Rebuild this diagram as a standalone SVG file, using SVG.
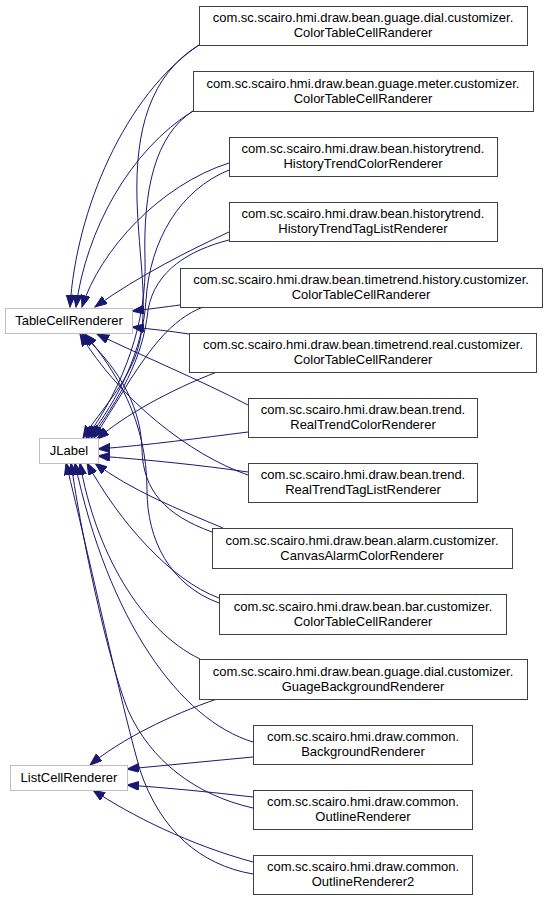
<svg xmlns="http://www.w3.org/2000/svg" width="551" height="901" viewBox="0 0 551 901">
<defs>
<marker id="arr" markerWidth="13" markerHeight="11" refX="12" refY="4.5" orient="auto" markerUnits="userSpaceOnUse">
<path d="M0,0 L12,4.5 L0,9 z" fill="#191970" stroke="#191970" stroke-width="1"/>
</marker>
<style>
.e{fill:none;stroke:#191970;stroke-width:1;marker-end:url(#arr)}
.n rect{fill:#fff;stroke:#404040;stroke-width:1}
.x rect{fill:#fff;stroke:#bfbfbf;stroke-width:1}
text{font-family:"Liberation Sans",Arial,sans-serif;font-size:13px;fill:#000;text-anchor:middle}
</style>
</defs>
<rect x="0" y="0" width="551" height="901" fill="#fff"/>
<g id="edges">
<path class="e" d="M199,45 C125,95 76,210 70,307"/>
<path class="e" d="M193,111 C130,150 86,230 76,307"/>
<path class="e" d="M229,163 C160,185 100,250 82,307"/>
<path class="e" d="M229,232 C190,250 140,275 95,307"/>
<path class="e" d="M180,305 C165,307 150,309 132,311"/>
<path class="e" d="M189,334 C170,331 150,329 132,327"/>
<path class="e" d="M248,405 C200,380 140,355 97,334"/>
<path class="e" d="M248,475 C190,455 120,400 80,334"/>
<path class="e" d="M212,532 C165,515 143,490 142,450 C141,400 112,362 82,334"/>
<path class="e" d="M219,603 C170,585 147,540 147,490 C147,420 115,370 85,334"/>
<path class="e" d="M199,45 C150,75 135,130 137,200 C139,260 148,300 140,340 C132,380 100,410 83,438"/>
<path class="e" d="M193,111 C155,135 143,190 145,260 C147,320 125,385 86,438"/>
<path class="e" d="M229,170 C180,190 150,240 146,300 C143,350 118,400 88,438"/>
<path class="e" d="M229,240 C190,250 155,270 148,310 C143,360 118,400 91,438"/>
<path class="e" d="M203,307 C170,320 150,350 130,380 C115,405 102,425 94,438"/>
<path class="e" d="M217,372 C170,390 125,415 97,439"/>
<path class="e" d="M248,432 C200,438 150,445 98,449"/>
<path class="e" d="M248,472 C200,465 150,460 98,456"/>
<path class="e" d="M223,528 C180,510 130,490 95,463"/>
<path class="e" d="M219,598 C170,580 118,520 87,463"/>
<path class="e" d="M200,659 C140,630 95,550 80,463"/>
<path class="e" d="M253,742 C180,720 108,620 75,463"/>
<path class="e" d="M253,808 C195,795 150,760 128,710 C108,660 82,540 71,463"/>
<path class="e" d="M253,874 C200,865 160,830 140,770 C120,700 90,560 66,463"/>
<path class="e" d="M217,699 C170,715 120,740 90,765"/>
<path class="e" d="M253,757 C210,761 170,765 127,769"/>
<path class="e" d="M253,797 C210,792 170,788 127,785"/>
<path class="e" d="M253,862 C190,845 130,815 93,790"/>
</g>
<g id="TableCellRenderer" class="x"><rect x="5.5" y="308.5" width="127" height="25"/><text x="69" y="325">TableCellRenderer</text></g>
<g id="JLabel" class="x"><rect x="39.5" y="438.5" width="59" height="25"/><text x="69" y="455">JLabel</text></g>
<g id="ListCellRenderer" class="x"><rect x="10.5" y="765.5" width="117" height="25"/><text x="69" y="782">ListCellRenderer</text></g>
<g id="n1" class="n"><rect x="199.5" y="6.5" width="328" height="39"/><text x="363" y="22">com.sc.scairo.hmi.draw.bean.guage.dial.customizer.</text><text x="363" y="37">ColorTableCellRanderer</text></g>
<g id="n2" class="n"><rect x="193.5" y="71.5" width="340" height="40"/><text x="363" y="88">com.sc.scairo.hmi.draw.bean.guage.meter.customizer.</text><text x="363" y="103">ColorTableCellRanderer</text></g>
<g id="n3" class="n"><rect x="229.5" y="137.5" width="268" height="39"/><text x="363" y="153">com.sc.scairo.hmi.draw.bean.historytrend.</text><text x="363" y="168">HistoryTrendColorRenderer</text></g>
<g id="n4" class="n"><rect x="229.5" y="202.5" width="268" height="39"/><text x="363" y="218">com.sc.scairo.hmi.draw.bean.historytrend.</text><text x="363" y="233">HistoryTrendTagListRenderer</text></g>
<g id="n5" class="n"><rect x="180.5" y="268.5" width="362" height="39"/><text x="361" y="284">com.sc.scairo.hmi.draw.bean.timetrend.history.customizer.</text><text x="361" y="299">ColorTableCellRanderer</text></g>
<g id="n6" class="n"><rect x="189.5" y="333.5" width="347" height="39"/><text x="363" y="349">com.sc.scairo.hmi.draw.bean.timetrend.real.customizer.</text><text x="363" y="364">ColorTableCellRanderer</text></g>
<g id="n7" class="n"><rect x="248.5" y="398.5" width="229" height="39"/><text x="363" y="414">com.sc.scairo.hmi.draw.bean.trend.</text><text x="363" y="429">RealTrendColorRenderer</text></g>
<g id="n8" class="n"><rect x="248.5" y="463.5" width="229" height="39"/><text x="363" y="479">com.sc.scairo.hmi.draw.bean.trend.</text><text x="363" y="494">RealTrendTagListRenderer</text></g>
<g id="n9" class="n"><rect x="212.5" y="528.5" width="300" height="40"/><text x="362" y="545">com.sc.scairo.hmi.draw.bean.alarm.customizer.</text><text x="362" y="560">CanvasAlarmColorRenderer</text></g>
<g id="n10" class="n"><rect x="219.5" y="594.5" width="287" height="40"/><text x="363" y="611">com.sc.scairo.hmi.draw.bean.bar.customizer.</text><text x="363" y="626">ColorTableCellRanderer</text></g>
<g id="n11" class="n"><rect x="199.5" y="659.5" width="328" height="40"/><text x="363" y="676">com.sc.scairo.hmi.draw.bean.guage.dial.customizer.</text><text x="363" y="691">GuageBackgroundRenderer</text></g>
<g id="n12" class="n"><rect x="253.5" y="725.5" width="219" height="39"/><text x="363" y="741">com.sc.scairo.hmi.draw.common.</text><text x="363" y="756">BackgroundRenderer</text></g>
<g id="n13" class="n"><rect x="253.5" y="790.5" width="219" height="39"/><text x="363" y="806">com.sc.scairo.hmi.draw.common.</text><text x="363" y="821">OutlineRenderer</text></g>
<g id="n14" class="n"><rect x="253.5" y="855.5" width="219" height="39"/><text x="363" y="871">com.sc.scairo.hmi.draw.common.</text><text x="363" y="886">OutlineRenderer2</text></g>
</svg>
